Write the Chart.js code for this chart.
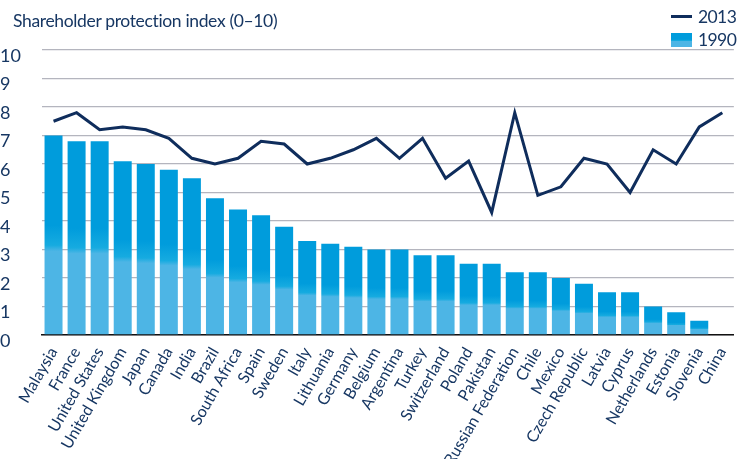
<!DOCTYPE html>
<html>
<head>
<meta charset="utf-8">
<script src="https://cdn.jsdelivr.net/npm/chart.js@4/dist/chart.umd.min.js"></script>
<style>
  html, body { margin: 0; padding: 0; background: #fff; }
  #wrap { position: relative; width: 740px; height: 459px; font-family: Lato, "Noto Sans", sans-serif; color: #173763; }
  #title { position: absolute; left: 13px; top: 10px; font-size: 17.5px; letter-spacing: -0.35px; white-space: nowrap; }
  #legend { position: absolute; left: 671px; top: 5px; font-size: 17.5px; line-height: 23px; letter-spacing: -0.6px; }
  #legend .row { display: flex; align-items: center; }
  #legend .line { width: 21px; height: 3px; background: #0f2d5c; margin-right: 6px; }
  #legend .box { width: 21px; height: 14px; margin-right: 6px;
    background: linear-gradient(to bottom, #009cdc 0%, #009cdc 45%, #16abe0 55%, #4db5e5 60%, #4db5e5 100%); }
</style>
</head>
<body>
<div id="wrap">
  <canvas id="chart" width="740" height="459"></canvas>
  <div id="title">Shareholder protection index (0–10)</div>
  <div id="legend">
    <div class="row"><span class="line"></span>2013</div>
    <div class="row"><span class="box"></span>1990</div>
  </div>
</div>
<script>
(function () {
    'use strict';

    var countries = ['Malaysia', 'France', 'United States', 'United Kingdom', 'Japan', 'Canada', 'India', 'Brazil',
        'South Africa', 'Spain', 'Sweden', 'Italy', 'Lithuania', 'Germany', 'Belgium', 'Argentina', 'Turkey',
        'Switzerland', 'Poland', 'Pakistan', 'Russian Federation', 'Chile', 'Mexico', 'Czech Republic', 'Latvia',
        'Cyprus', 'Netherlands', 'Estonia', 'Slovenia', 'China'];

    var index1990 = [7.0, 6.8, 6.8, 6.1, 6.0, 5.8, 5.5, 4.8, 4.4, 4.2, 3.8, 3.3, 3.2, 3.1, 3.0, 3.0, 2.8,
        2.8, 2.5, 2.5, 2.2, 2.2, 2.0, 1.8, 1.5, 1.5, 1.0, 0.8, 0.5, 0];

    var index2013 = [7.5, 7.8, 7.2, 7.3, 7.2, 6.9, 6.2, 6.0, 6.2, 6.8, 6.7, 6.0, 6.2, 6.5, 6.9, 6.2, 6.9,
        5.5, 6.1, 4.3, 7.8, 4.9, 5.2, 6.2, 6.0, 5.0, 6.5, 6.0, 7.3, 7.8];

    var yTicks = [0, 1, 2, 3, 4, 5, 6, 7, 8, 9, 10];

    var navy = '#173763';
    var darkBlue = '#009cdc';
    var lightBlue = '#4db5e5';

    // light lower part, darker upper part, like the printed bars
    function barFill(context) {
        var chart = context.chart;
        if (!chart.chartArea || context.raw == null) {
            return darkBlue;
        }
        var y = chart.scales.y;
        var y0 = y.getPixelForValue(0);
        var y1 = y.getPixelForValue(context.raw);
        if (y0 === y1) {
            return darkBlue;
        }
        var g = chart.ctx.createLinearGradient(0, y0, 0, y1);
        g.addColorStop(0, lightBlue);
        g.addColorStop(0.42, lightBlue);
        g.addColorStop(0.45, '#16abe0');
        g.addColorStop(0.55, darkBlue);
        g.addColorStop(1, darkBlue);
        return g;
    }

    new Chart(document.getElementById('chart'), {
        type: 'bar',
        data: {
            labels: countries,
            datasets: [
                {
                    type: 'line',
                    label: '2013',
                    data: index2013,
                    borderColor: '#0f2d5c',
                    borderWidth: 3,
                    pointRadius: 0,
                    tension: 0,
                    fill: false,
                    order: 0
                },
                {
                    label: '1990',
                    data: index1990,
                    backgroundColor: barFill,
                    barPercentage: 0.78,
                    categoryPercentage: 1,
                    order: 1
                }
            ]
        },
        options: {
            responsive: false,
            animation: false,
            layout: { padding: { top: 50, right: 3, left: 0, bottom: 0 } },
            plugins: {
                legend: { display: false },
                tooltip: { enabled: false }
            },
            scales: {
                x: {
                    grid: { display: false },
                    border: { color: '#111', width: 1.5 },
                    ticks: {
                        color: navy,
                        font: { family: 'Lato', size: 16 },
                        minRotation: 60,
                        maxRotation: 60,
                        autoSkip: false,
                        padding: 1
                    },
                    afterFit: function (scale) { scale.height = 124; }
                },
                y: {
                    min: 0,
                    max: 10,
                    afterBuildTicks: function (scale) {
                        scale.ticks = yTicks.map(function (v) { return { value: v }; });
                    },
                    grid: { color: '#b4b5be', lineWidth: 1.3, drawTicks: false },
                    border: { display: false },
                    ticks: {
                        color: navy,
                        font: { family: 'Lato', size: 18 },
                        crossAlign: 'far',
                        labelOffset: 6,
                        padding: 0
                    },
                    afterFit: function (scale) { scale.width = 42; }
                }
            }
        }
    });
})();
</script>
</body>
</html>
